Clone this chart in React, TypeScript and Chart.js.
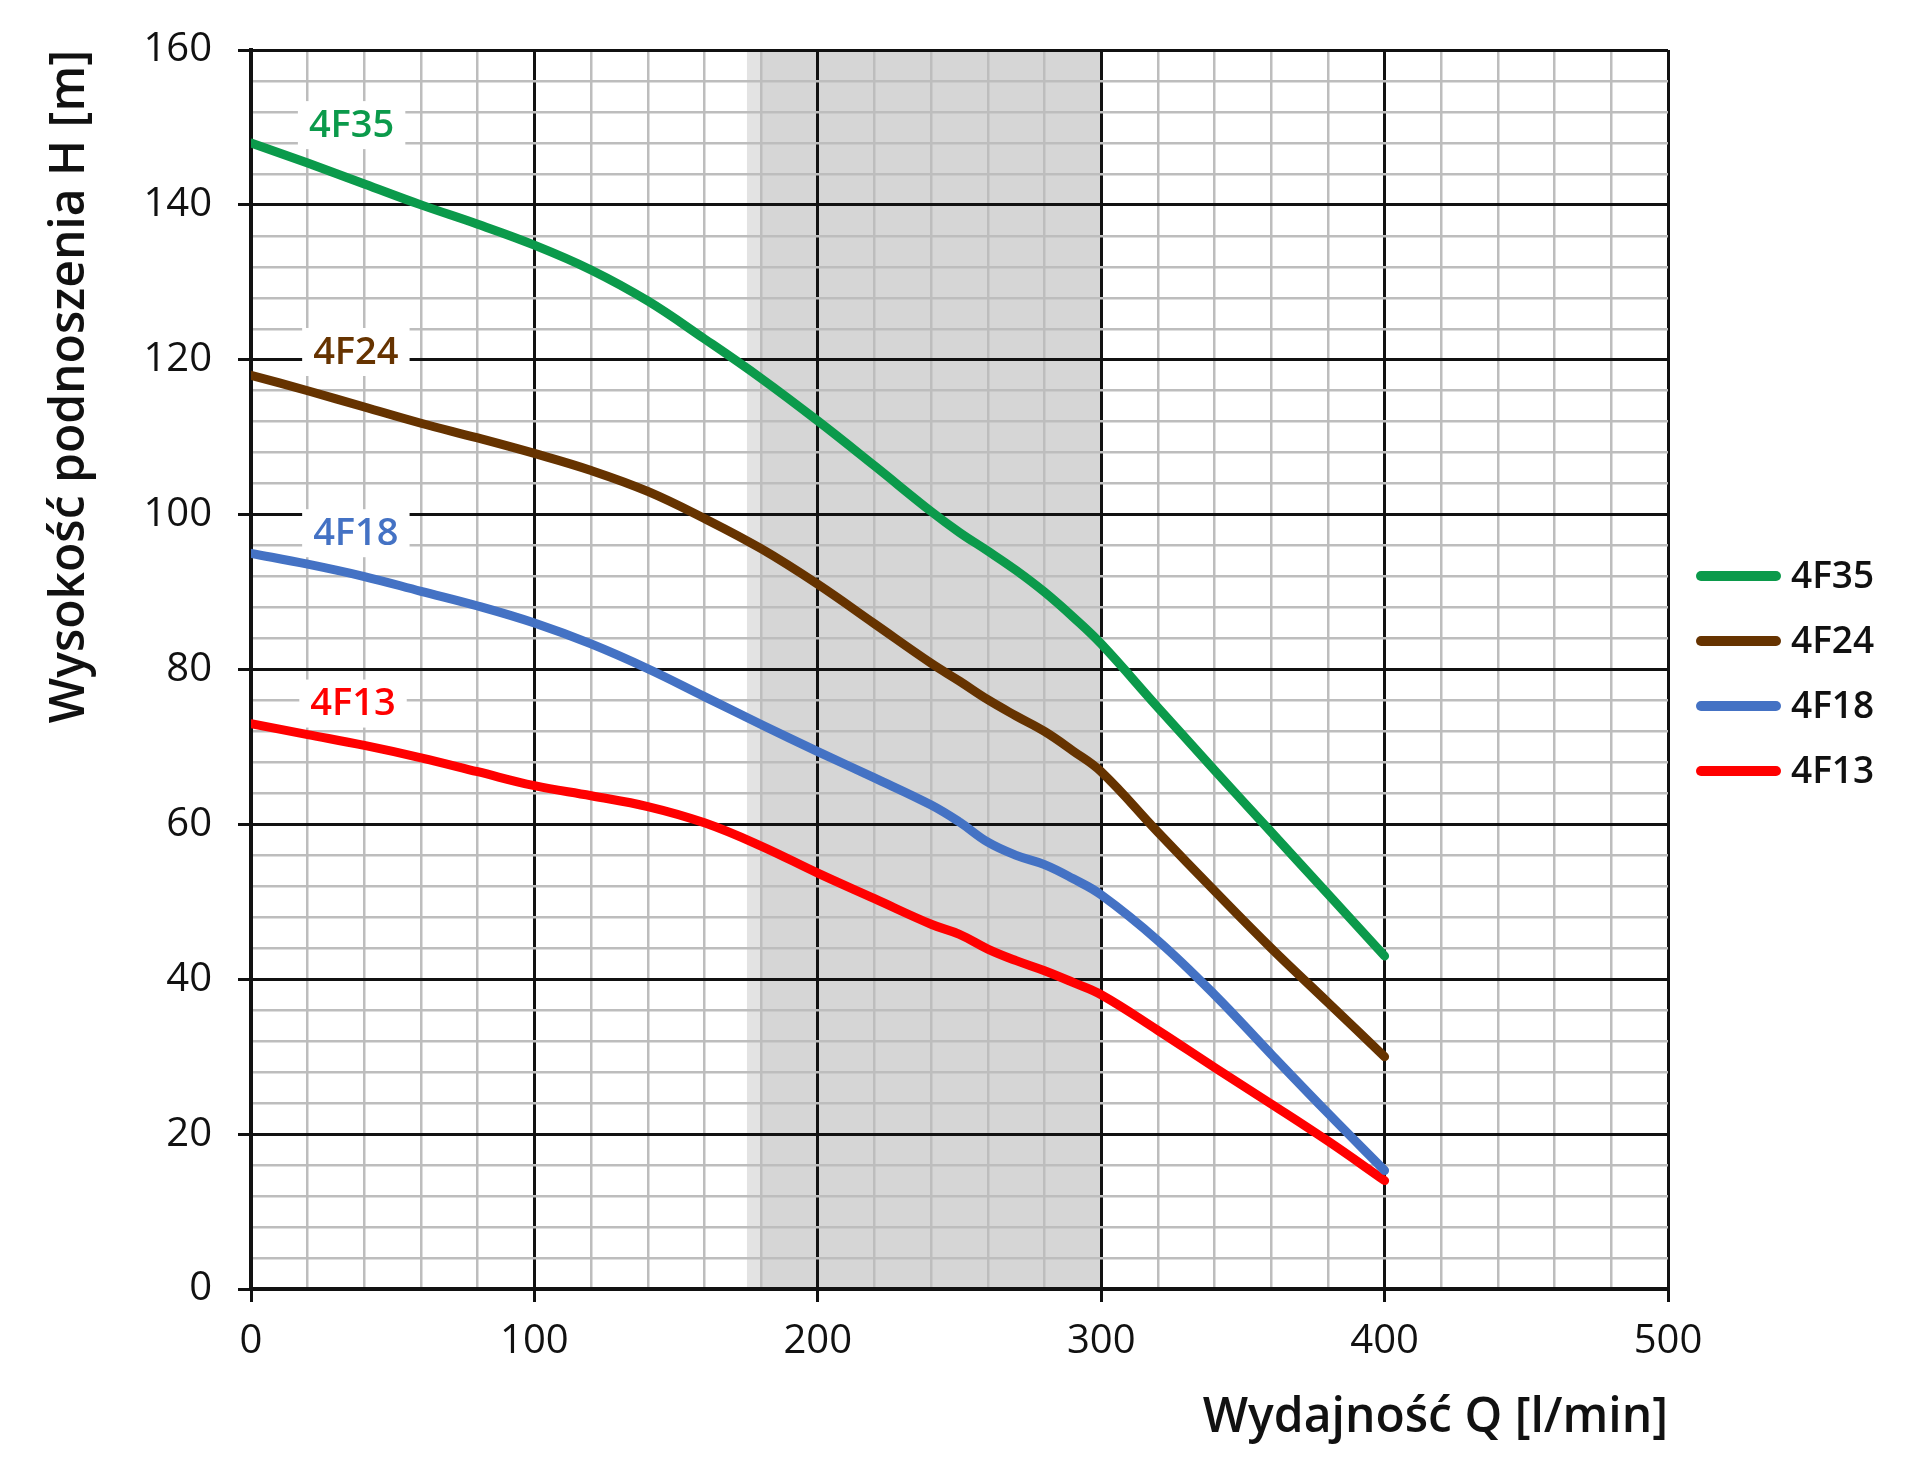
import { useEffect, useRef } from 'react'
import { Chart, registerables } from 'chart.js'

Chart.register(...registerables)

// Wydajność Q [l/min]
const flowQ = [0, 20, 40, 60, 80, 100, 120, 140, 160, 180, 200, 220, 240, 250, 260, 270, 280, 290, 300, 320, 340, 360, 380, 400]

// Wysokość podnoszenia H [m]
const head4F35 = [148, 145.4, 142.7, 140, 137.5, 134.8, 131.6, 127.6, 122.7, 117.6, 112.1, 106.3, 100.4, 97.7, 95.3, 92.8, 90, 86.8, 83.3, 75.1, 67, 59, 51, 43]
const head4F24 = [118, 116, 113.9, 111.8, 109.9, 107.9, 105.7, 103, 99.5, 95.6, 91, 85.9, 80.8, 78.5, 76.1, 74, 72, 69.5, 66.8, 59, 51.4, 44, 37, 30]
const head4F18 = [95, 93.6, 92, 90.1, 88.2, 86, 83.3, 80.1, 76.5, 72.9, 69.4, 66, 62.5, 60.3, 57.7, 56, 54.8, 53, 50.9, 45, 38, 30.3, 22.7, 15.3]
const head4F13 = [73, 71.6, 70.2, 68.6, 66.8, 65, 63.7, 62.3, 60.2, 57.2, 53.7, 50.4, 47.1, 45.8, 43.9, 42.4, 41.1, 39.6, 38, 33.4, 28.6, 23.9, 19.1, 14]

const seriesNames = ['4F35', '4F24', '4F18', '4F13']
const seriesHeads = [head4F35, head4F24, head4F18, head4F13]
const seriesColors = ['#0b9a4b', '#663300', '#4472c4', '#ff0000']

// where the name of each curve is written inside the plot (Q, H)
const labelQ = [35.5, 37, 37, 36]
const labelH = [150.3, 121, 97.6, 75.6]

// recommended working range
const bandStart = 175
const bandEnd = 300

const FONT = '"Open Sans", sans-serif'

const bandPlugin = {
  id: 'workBand',
  beforeDraw(chart: any) {
    const { ctx, chartArea, scales } = chart
    const x0 = scales.x.getPixelForValue(bandStart)
    const xs = scales.x.getPixelForValue(bandStart + 5)
    const x1 = scales.x.getPixelForValue(bandEnd)
    ctx.save()
    ctx.fillStyle = '#e3e3e3'
    ctx.fillRect(x0, chartArea.top, xs - x0, chartArea.bottom - chartArea.top)
    ctx.fillStyle = '#d6d6d6'
    ctx.fillRect(xs, chartArea.top, x1 - xs, chartArea.bottom - chartArea.top)
    ctx.restore()
  },
}

const curveLabelsPlugin = {
  id: 'curveLabels',
  afterDatasetsDraw(chart: any) {
    const { ctx, scales } = chart
    ctx.save()
    ctx.font = `600 38px ${FONT}`
    ctx.textAlign = 'center'
    ctx.textBaseline = 'middle'
    seriesNames.forEach((name, i) => {
      const px = scales.x.getPixelForValue(labelQ[i])
      const py = scales.y.getPixelForValue(labelH[i])
      const w = ctx.measureText(name).width + 22
      ctx.fillStyle = '#ffffff'
      ctx.fillRect(px - w / 2, py - 24, w, 48)
      ctx.fillStyle = seriesColors[i]
      ctx.fillText(name, px, py + 1)
    })
    ctx.restore()
  },
}

const sideLegendPlugin = {
  id: 'sideLegend',
  afterDraw(chart: any) {
    const { ctx, chartArea } = chart
    const mid = (chartArea.top + chartArea.bottom) / 2 + 4
    const x0 = chartArea.right + 28
    ctx.save()
    ctx.font = `600 37px ${FONT}`
    ctx.textAlign = 'left'
    ctx.textBaseline = 'middle'
    ctx.lineCap = 'round'
    ctx.lineWidth = 10
    seriesNames.forEach((name, i) => {
      const y = mid + (i - 1.5) * 65
      ctx.strokeStyle = seriesColors[i]
      ctx.beginPath()
      ctx.moveTo(x0 + 5, y)
      ctx.lineTo(x0 + 80, y)
      ctx.stroke()
      ctx.fillStyle = '#111111'
      ctx.fillText(name, x0 + 95, y + 1)
    })
    ctx.restore()
  },
}

export default function App() {
  const chartRef = useRef<HTMLCanvasElement>(null)

  useEffect(() => {
    document.body.style.margin = '0'
    const chart = new Chart(chartRef.current as HTMLCanvasElement, {
      type: 'line',
      data: {
        datasets: seriesNames.map((name, i) => ({
          label: name,
          data: flowQ.map((q, k) => ({ x: q, y: seriesHeads[i][k] })),
          borderColor: seriesColors[i],
          backgroundColor: seriesColors[i],
          borderWidth: 9,
          borderCapStyle: 'round',
          pointRadius: 0,
          tension: 0.4,
          fill: false,
        })),
      },
      options: {
        animation: false,
        responsive: true,
        maintainAspectRatio: false,
        layout: { padding: { top: 44, right: 252, left: 0, bottom: 0 } },
        scales: {
          x: {
            type: 'linear',
            min: 0,
            max: 500,
            afterFit: (scale: any) => {
              scale.height = 172
            },
            ticks: {
              stepSize: 20,
              autoSkip: false,
              maxRotation: 0,
              padding: 16,
              color: '#111111',
              font: { family: FONT, size: 40, weight: 500 },
              callback: (v: any) => (v % 100 === 0 ? String(v) : ''),
            },
            grid: {
              color: (c: any) => (c.tick && c.tick.value % 100 === 0 ? '#111111' : '#bdbdbd'),
              lineWidth: (c: any) => (c.tick && c.tick.value % 100 === 0 ? 3 : 2.5),
              tickColor: (c: any) => (c.tick && c.tick.value % 100 === 0 ? '#111111' : 'rgba(0,0,0,0)'),
              tickLength: 13,
            },
            border: { color: '#111111', width: 4 },
            title: {
              display: true,
              text: 'Wydajność Q [l/min]',
              align: 'end',
              color: '#111111',
              font: { family: FONT, size: 48, weight: 600 },
              padding: { top: 0, bottom: 14 },
            },
          },
          y: {
            type: 'linear',
            min: 0,
            max: 160,
            afterFit: (scale: any) => {
              scale.width = 251
            },
            ticks: {
              stepSize: 4,
              autoSkip: false,
              padding: 26,
              color: '#111111',
              font: { family: FONT, size: 40, weight: 500 },
              callback: (v: any) => (v % 20 === 0 ? String(v) : ''),
            },
            grid: {
              color: (c: any) => (c.tick && c.tick.value % 20 === 0 ? '#111111' : '#bdbdbd'),
              lineWidth: (c: any) => (c.tick && c.tick.value % 20 === 0 ? 3 : 2.5),
              tickColor: (c: any) => (c.tick && c.tick.value % 20 === 0 ? '#111111' : 'rgba(0,0,0,0)'),
              tickLength: 13,
            },
            border: { color: '#111111', width: 4 },
            title: {
              display: true,
              text: 'Wysokość podnoszenia H [m]',
              align: 'end',
              color: '#111111',
              font: { family: FONT, size: 48, weight: 600 },
              padding: { top: 42, bottom: 0 },
            },
          },
        },
        plugins: {
          legend: { display: false },
          tooltip: { enabled: false },
        },
      },
      plugins: [bandPlugin, curveLabelsPlugin, sideLegendPlugin],
    } as any)

    return () => {
      chart.destroy()
    }
  }, [])

  return (
    <div style={{ width: 1920, height: 1461, position: 'relative', background: '#ffffff' }}>
      <canvas ref={chartRef} />
    </div>
  )
}
